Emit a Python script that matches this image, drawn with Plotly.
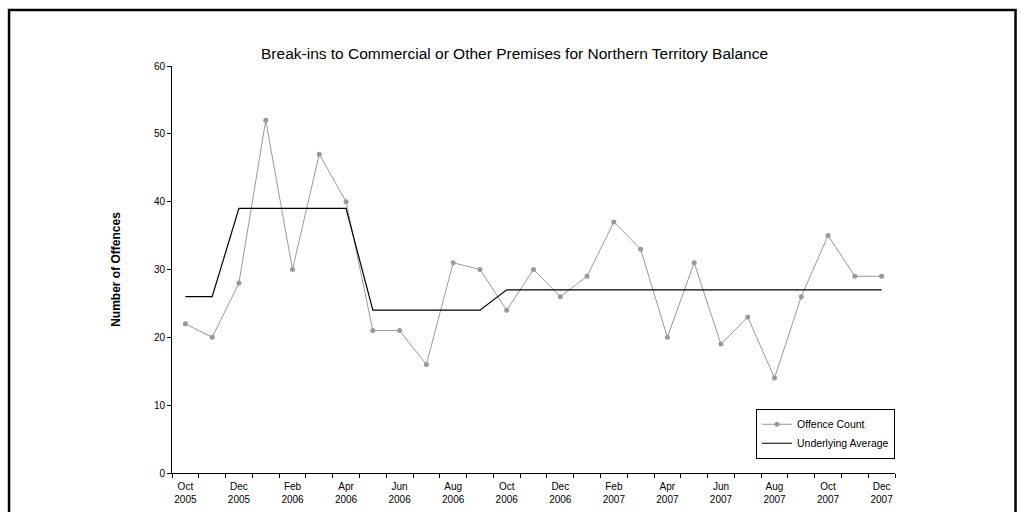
import plotly.graph_objects as go

months = ["Oct 2005", "Nov 2005", "Dec 2005", "Jan 2006", "Feb 2006", "Mar 2006", "Apr 2006",
          "May 2006", "Jun 2006", "Jul 2006", "Aug 2006", "Sep 2006", "Oct 2006", "Nov 2006",
          "Dec 2006", "Jan 2007", "Feb 2007", "Mar 2007", "Apr 2007", "May 2007", "Jun 2007",
          "Jul 2007", "Aug 2007", "Sep 2007", "Oct 2007", "Nov 2007", "Dec 2007"]
offence_count = [22, 20, 28, 52, 30, 47, 40, 21, 21, 16, 31, 30, 24, 30, 26, 29, 37, 33, 20, 31,
                 19, 23, 14, 26, 35, 29, 29]
underlying_avg = [26, 26, 39, 39, 39, 39, 39, 24, 24, 24, 24, 24, 27, 27, 27, 27, 27, 27, 27, 27,
                  27, 27, 27, 27, 27, 27, 27]
y_ticks = [0, 10, 20, 30, 40, 50, 60]

idx = list(range(len(months)))
label_idx = idx[::2]
label_text = [months[i].replace(" ", "<br>") for i in label_idx]
boundaries = [i - 0.5 for i in range(len(months) + 1)]

font = "Liberation Sans, Arial, sans-serif"

fig = go.Figure()
fig.add_trace(go.Scatter(
    x=idx, y=offence_count, name="Offence Count", mode="lines+markers",
    line=dict(color="#999999", width=1), marker=dict(color="#999999", size=5),
))
fig.add_trace(go.Scatter(
    x=idx, y=underlying_avg, name="Underlying Average", mode="lines",
    line=dict(color="#000000", width=1.2),
))

fig.update_layout(
    width=1021, height=512,
    paper_bgcolor="white", plot_bgcolor="white",
    margin=dict(l=172, r=126, t=66, b=39, autoexpand=False),
    font=dict(family=font, size=10, color="#000000"),
    title=dict(text="Break-ins to Commercial or Other Premises for Northern Territory Balance",
               x=0.504, xref="container", xanchor="center", y=0.896, yanchor="middle",
               font=dict(size=15.5, family=font)),
    showlegend=True,
    legend=dict(x=1.0, xanchor="right", y=0.035, yanchor="bottom",
                bgcolor="white", bordercolor="#000000", borderwidth=1,
                font=dict(size=10.5, family=font), tracegroupgap=0,
                itemwidth=30),
    xaxis=dict(
        range=[-0.5, len(months) - 0.5], showgrid=False, zeroline=False, automargin=False,
        showline=True, linecolor="#000000", linewidth=1,
        tickmode="array", tickvals=label_idx, ticktext=label_text,
        ticks="", tickfont=dict(size=10, family=font), ticklabelstandoff=4,
        minor=dict(tickmode="array", tickvals=boundaries, ticks="outside",
                   ticklen=4, tickcolor="#000000", showgrid=False),
    ),
    yaxis=dict(
        range=[0, 60], showgrid=False, zeroline=False, automargin=False,
        showline=True, linecolor="#000000", linewidth=1,
        tickmode="array", tickvals=y_ticks, ticks="outside", ticklen=4,
        tickcolor="#000000", tickfont=dict(size=10, family=font),
        title=dict(text="<b>Number of Offences</b>", font=dict(size=12, family=font), standoff=30),
    ),
)

fig.add_shape(type="rect", xref="paper", yref="paper",
              x0=-0.2254, x1=1.1667, y0=-0.12, y1=1.1376,
              line=dict(color="#000000", width=2.5), fillcolor="rgba(0,0,0,0)", layer="above")

fig.write_html("out.html", config={"displayModeBar": False},
               post_script="document.body.style.margin='0';document.body.style.overflow='hidden';")
